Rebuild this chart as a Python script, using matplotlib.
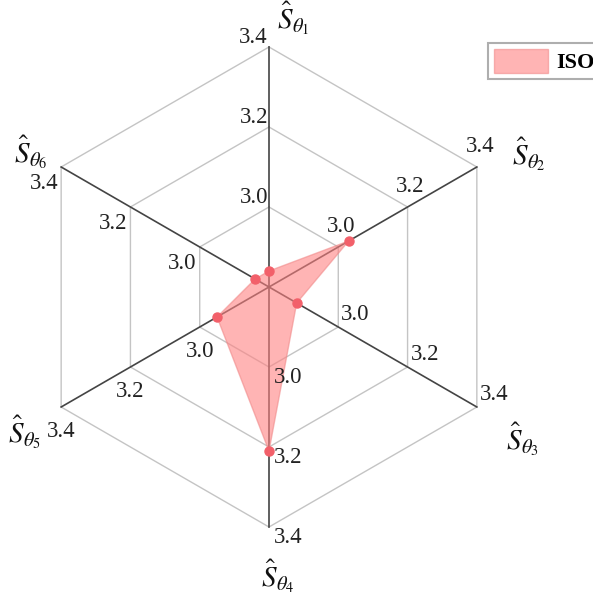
import numpy as np
import matplotlib
matplotlib.use("Agg")
import matplotlib.pyplot as plt

# ---- data ----
axis_labels = [r"$\hat{S}_{\theta_1}$", r"$\hat{S}_{\theta_2}$", r"$\hat{S}_{\theta_3}$",
               r"$\hat{S}_{\theta_4}$", r"$\hat{S}_{\theta_5}$", r"$\hat{S}_{\theta_6}$"]
iso_values = [2.84, 3.03, 2.88, 3.21, 2.95, 2.84]
tick_values = [3.0, 3.2, 3.4]
tick_labels = ["3.0", "3.2", "3.4"]
series_name = "ISO"
r_min, r_max = 2.8, 3.4

plt.rcParams["mathtext.fontset"] = "stix"

W, H = 593, 597
cx, cy = 269, 287          # centre in pixels from top-left
R = 240                    # pixel radius of outer ring

fig = plt.figure(figsize=(W / 100, H / 100), dpi=100)
ax = fig.add_axes([0, 0, 1, 1])
ax.set_xlim(-cx, W - cx)
ax.set_ylim(-(H - cy), cy)
ax.set_aspect("equal")
ax.axis("off")

n = len(axis_labels)
angles = np.deg2rad(90 - 60 * np.arange(n))

def to_xy(vals):
    vals = np.asarray(vals, dtype=float)
    r = (vals - r_min) / (r_max - r_min) * R
    return r * np.cos(angles), r * np.sin(angles)

# grid hexagons
for tv in tick_values:
    gx, gy = to_xy([tv] * n)
    ax.plot(np.append(gx, gx[0]), np.append(gy, gy[0]), color="#c4c4c4", lw=1.0, zorder=1)

# spokes
ox, oy = to_xy([r_max] * n)
for i in range(n):
    ax.plot([0, ox[i]], [0, oy[i]], color="#444444", lw=1.2, zorder=2)

# data polygon
dx, dy = to_xy(iso_values)
poly = ax.fill(np.append(dx, dx[0]), np.append(dy, dy[0]), facecolor="#ff8282", alpha=0.6,
               edgecolor="#f08a8a", lw=1.0, zorder=3, label=series_name)
ax.plot(dx, dy, "o", color="#f2606a", ms=6.5, zorder=4)

# tick labels (ha, va, pixel offset) per axis
tick_style = [
    ("right", "baseline", (-1, 4)),
    ("center", "baseline", (3, 15)),
    ("left", "baseline", (3, 7)),
    ("left", "baseline", (5, -16)),
    ("center", "baseline", (0, -30)),
    ("right", "baseline", (-3, -22)),
]
for i in range(n):
    for tv, tl in zip(tick_values, tick_labels):
        vx, vy = to_xy([tv] * n)
        ha, va, off = tick_style[i]
        ax.annotate(tl, (vx[i], vy[i]), xytext=off, textcoords="offset pixels",
                    ha=ha, va=va, fontsize=16.5, fontfamily="Liberation Serif",
                    color="#222222", zorder=5)

# axis labels
label_off = [(24, 29), (52, 13), (46, -32), (9, -49), (-37, -25), (-30, 15)]
for i in range(n):
    ax.annotate(axis_labels[i], (ox[i], oy[i]), xytext=label_off[i], textcoords="offset pixels",
                ha="center", va="center", fontsize=21, color="#111111", zorder=5)

# legend
leg = fig.legend(handles=poly, loc="upper left", bbox_to_anchor=(488 / W, 1 - 43 / H),
                 prop={"family": "Liberation Serif", "weight": "bold", "size": 16},
                 frameon=True, fancybox=False, borderpad=0.25, handlelength=2.45,
                 handleheight=1.3, handletextpad=0.35, borderaxespad=0)
leg.get_frame().set_edgecolor("#9a9a9a")
leg.get_frame().set_linewidth(1.5)

fig.savefig("out.png", dpi=100)
